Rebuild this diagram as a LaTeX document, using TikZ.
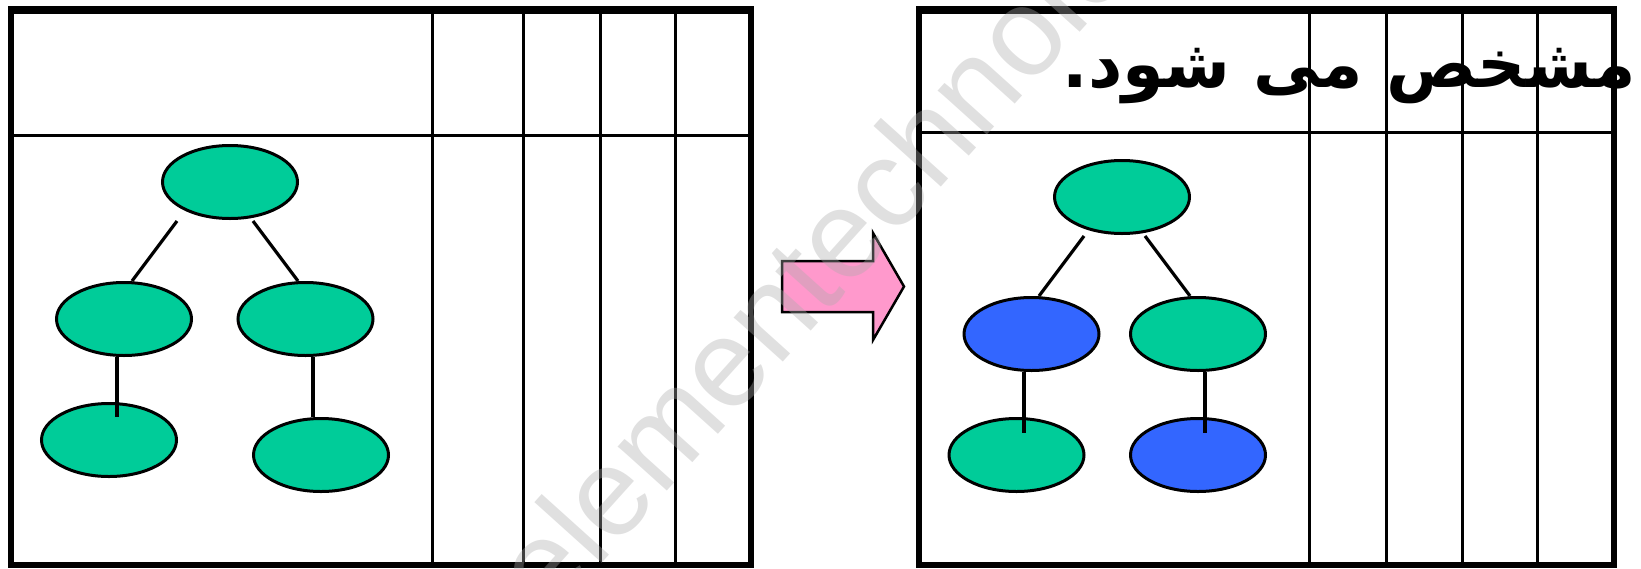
\documentclass[tikz,border=0pt]{standalone}
\usepackage{fontspec}
\setmainfont{Liberation Sans}
\newfontfamily\arabicfont[Script=Arabic]{DejaVu Sans}
\TeXXeTstate=1
\usetikzlibrary{calc,shapes.geometric}

\definecolor{nodegreen}{RGB}{0,204,153}
\definecolor{nodeblue}{RGB}{51,102,255}
\definecolor{arrowpink}{RGB}{255,153,204}
\definecolor{markgray}{RGB}{171,171,171}

\tikzset{
  frame/.style={line width=6pt},
  topframe/.style={line width=8pt},
  rule/.style={line width=3pt},
  leaf/.style={ellipse, draw=black, line width=3pt, minimum width=135pt,
               minimum height=73pt, inner sep=0pt},
  greenleaf/.style={leaf, fill=nodegreen},
  blueleaf/.style={leaf, fill=nodeblue},
  link/.style={line width=3.2pt},
  blockarrow/.style={draw=black, line width=2.5pt, fill=arrowpink, line join=miter},
  watermark/.style={rotate=48, font=\fontsize{125}{125}\selectfont,
                    text=markgray, text opacity=0.37, inner sep=0pt}
}

\begin{document}
\begin{tikzpicture}[x=1pt,y=-1pt]
\useasboundingbox (0,0) rectangle (1641,568);

% ---- left table ----
\draw[frame] (11,10) rectangle (751,565);
\draw[topframe] (8,9.5) -- (754,9.5);
\draw[rule] (11,135) -- (751,135);
\foreach \x in {432,523,600,675} \draw[rule] (\x,10) -- (\x,565);

% ---- right table ----
\draw[frame] (919,10) rectangle (1614,565);
\draw[topframe] (916,9.5) -- (1617,9.5);
\draw[rule] (919,132.5) -- (1614,132.5);
\foreach \x in {1309,1386,1462,1537} \draw[rule] (\x,10) -- (\x,565);

% ---- left tree ----
\node[greenleaf] (A) at (230,182) {};
\node[greenleaf] (B) at (124,319) {};
\node[greenleaf] (C) at (305.5,319) {};
\node[greenleaf] (D) at (109,440) {};
\node[greenleaf] (E) at (321,455) {};
\draw[link] ($(A.south)+(-53,1)$) -- ($(B.north)+(8,0)$);
\draw[link] ($(A.south)+(23,1)$) -- ($(C.north)+(-7.5,0)$);
\draw[link] ($(B.south)+(-7,0)$) -- ($(D.north)+(8,15)$);
\draw[link] ($(C.south)+(7.5,0)$) -- ($(E.north)+(-8,0)$);

% ---- right tree ----
\node[greenleaf] (F) at (1122,197) {};
\node[blueleaf]  (G) at (1031.5,334) {};
\node[greenleaf] (H) at (1198,334) {};
\node[greenleaf] (I) at (1016.5,455) {};
\node[blueleaf]  (J) at (1198,455) {};
\draw[link] ($(F.south)+(-38,1)$) -- ($(G.north)+(7.5,0)$);
\draw[link] ($(F.south)+(23,1)$) -- ($(H.north)+(-8,0)$);
\draw[link] ($(G.south)+(-7.5,0)$) -- ($(I.north)+(7.5,16)$);
\draw[link] ($(H.south)+(7,0)$) -- ($(J.north)+(7,16)$);

% ---- block arrow between the tables ----
\draw[blockarrow] (782,261) -- (873,261) -- (873,233) -- (904,286.5)
  -- (873,340) -- (873,312) -- (782,312) -- cycle;

% ---- heading text ----
\node[anchor=base east, inner sep=0pt, font=\arabicfont\bfseries\fontsize{67}{67}\selectfont]
  (caption) at (1636,87) {\beginR مشخص می شود.\endR};

% ---- watermark ----
\node[watermark] (mark) at (865,223) {elementechnology};
\end{tikzpicture}
\end{document}
